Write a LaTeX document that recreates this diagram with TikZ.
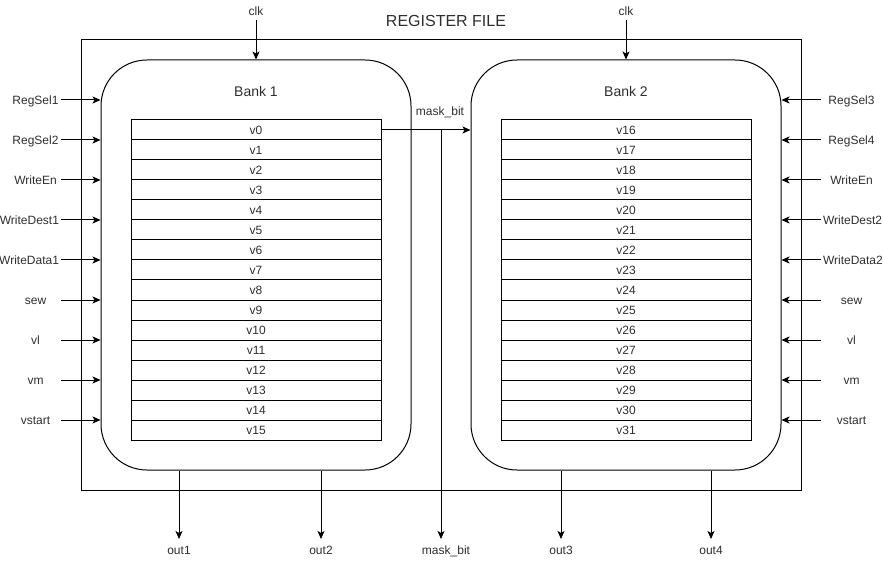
\documentclass[tikz,border=0pt]{standalone}
\usepackage{fontspec}
\setmainfont{Liberation Sans}
\usetikzlibrary{arrows.meta}
\definecolor{txt}{HTML}{2E2E2E}
\begin{document}
\begin{tikzpicture}[x=1pt,y=-1pt,line width=1pt,
  arr/.style={-{Stealth[length=8pt,width=7pt,inset=2pt]}},
  lbl/.style={font=\fontsize{12}{14}\selectfont,text=txt,text height=8.6pt,text depth=0pt,inner sep=1.5pt},
  inl/.style={lbl,anchor=east,minimum width=50pt},
  inr/.style={lbl,anchor=west,minimum width=60pt},
  reg/.style={draw,minimum width=250pt,minimum height=20pt,inner sep=0pt,
    font=\fontsize{12}{14}\selectfont,text=txt,text height=8.6pt,text depth=0pt},
  bank/.style={draw,rounded corners=46pt,minimum width=310pt,minimum height=410pt,inner sep=0pt},
  outer/.style={draw,minimum width=720pt,minimum height=450pt,inner sep=0pt}]
\useasboundingbox (0,0) rectangle (883,561);
% outer box
\node[outer] (rf) at (441,265) {};
\node[lbl,font=\fontsize{16}{18}\selectfont,text height=11.5pt] (title) at (446,21) {REGISTER FILE};
% banks
\node[bank] (b1) at (256,265) {};
\node[bank] (b2) at (626,265) {};
\node[lbl,font=\fontsize{14}{16}\selectfont,text height=10.1pt] (bl1) at (256,91) {Bank 1};
\node[lbl,font=\fontsize{14}{16}\selectfont,text height=10.1pt] (bl2) at (626,91) {Bank 2};
% registers
\foreach \i in {0,...,15} {
  \node[reg] (r\i) at (256,{130+20*\i}) {v\i};
  \pgfmathtruncatemacro\j{\i+16}
  \node[reg] (r\j) at (626,{130+20*\i}) {v\j};
}
% clocks
\node[lbl,inner sep=4.5pt] (clk1) at (256,11) {clk};
\node[lbl,inner sep=4.5pt] (clk2) at (626,11) {clk};
\draw[arr] (clk1.south) -- (b1.north);
\draw[arr] (clk2.south) -- (b2.north);
% left inputs
\foreach \t [count=\k from 0] in {RegSel1,RegSel2,WriteEn,WriteDest1,WriteData1,sew,vl,vm,vstart} {
  \node[inl] (L\k) at (61,{100+40*\k}) {\t};
  \draw[arr] (L\k.east) -- (L\k.east -| b1.west);
}
% right inputs
\foreach \t [count=\k from 0] in {RegSel3,RegSel4,WriteEn,WriteDest2,WriteData2,sew,vl,vm,vstart} {
  \node[inr] (R\k) at (821,{100+40*\k}) {\t};
  \draw[arr] (R\k.west) -- (R\k.west -| b2.east);
}
% mask bit
\node[lbl] (mb1) at (440,111) {mask\_bit};
\draw[arr] (r0.east) -- (r0.east -| b2.west);
\coordinate (mtop) at (441,130);
\coordinate (mbot) at (441,539);
\node[lbl,anchor=north,inner ysep=6pt] (mb2) at (446,539) {mask\_bit};
\draw[arr] (mtop) -- (mbot);
% outputs
\foreach \x/\n/\b in {179/out1/b1,321/out2/b1,561/out3/b2,711/out4/b2} {
  \node[lbl,anchor=north,inner ysep=6pt] (\n) at (\x,539) {\n};
  \draw[arr] (\n.north |- \b.south) -- (\n.north);
}
\end{tikzpicture}
\end{document}
